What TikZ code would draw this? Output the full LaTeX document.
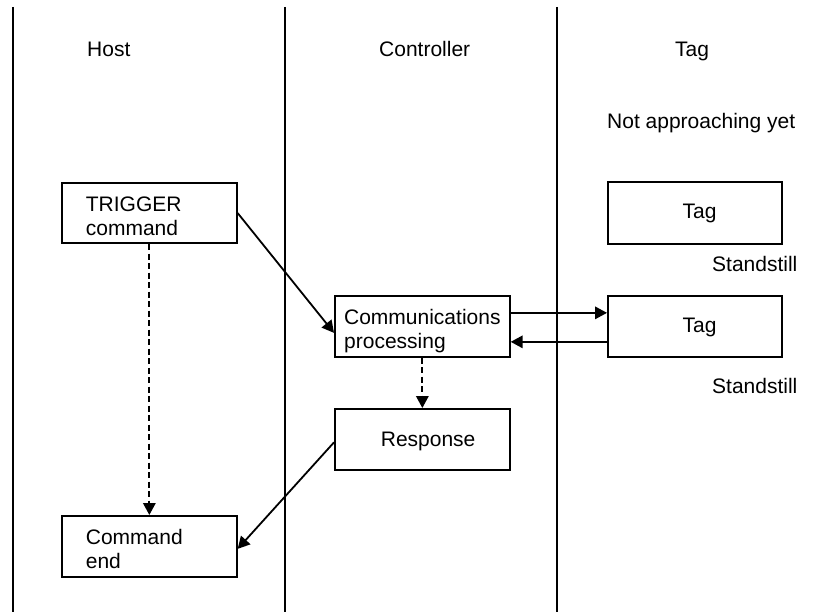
\documentclass[tikz,border=0pt]{standalone}
\usepackage{fontspec}
\setmainfont{Liberation Sans}
\usetikzlibrary{arrows.meta}
\hyphenpenalty=10000
\exhyphenpenalty=10000
\begin{document}
\begin{tikzpicture}[x=1pt,y=-1pt,
  every node/.style={font=\fontsize{21}{24}\selectfont},
  lane/.style={line width=1.8pt},
  box/.style n args={3}{draw, line width=1.7pt, anchor=north west, align=left,
     minimum height=#1, text width=#2, inner xsep=#3, inner ysep=0pt},
  twoline/.style={text height=21pt, text depth=24pt},
  oneline/.style={text height=15pt, text depth=3pt},
  lbl/.style={anchor=base west, inner sep=0pt},
  flow/.style={line width=1.8pt, -{Triangle[length=12pt,width=12.5pt]}},
  dflow/.style={flow, dash pattern=on 6pt off 3.5pt}
]
\useasboundingbox (0,0) rectangle (824,612);
% swim lanes
\draw[lane] (13,7) -- (13,612);
\draw[lane] (285,7) -- (285,612);
\draw[lane] (557,7) -- (557,612);
% lane titles
\node[lbl] (hHost) at (87,57) {Host};
\node[lbl] (hCtrl) at (379,57) {Controller};
\node[lbl] (hTag) at (675,57) {Tag};
\node[lbl] (notyet) at (607,129) {Not approaching yet};
\node[lbl] (still1) at (712,272) {Standstill};
\node[lbl] (still2) at (712,393) {Standstill};
% boxes
\node[box={60.5pt}{127pt}{24pt}, twoline] (trig) at (61,182) {TRIGGER\\command};
\node[box={61pt}{156.4pt}{9.3pt}, twoline] (comm) at (334,295) {Communications\\processing};
\node[box={61pt}{83pt}{46pt}, text height=15pt, text depth=-4.6pt] (resp) at (334,408) {Response};
\node[box={61pt}{127pt}{24pt}, twoline] (cend) at (61,515) {Command\\end};
\node[box={62pt}{24.6pt}{74.7pt}, oneline] (tag1) at (607,181) {Tag};
\node[box={61pt}{24.6pt}{74.7pt}, oneline] (tag2) at (607,295) {Tag};
% connectors
\draw[flow] (trig.east) -- ([yshift=-6.5pt]comm.west);
\draw[flow] ([yshift=13.5pt]comm.east) -- ([yshift=13.5pt]tag2.west);
\draw[flow] ([yshift=-15.5pt]tag2.west) -- ([yshift=-15.5pt]comm.east);
\draw[dflow] (comm.south) -- (resp.north);
\draw[dflow] (trig.south) -- (cend.north);
\draw[flow] ([yshift=-3pt]resp.west) -- ([yshift=-2.5pt]cend.east);
\end{tikzpicture}
\end{document}
